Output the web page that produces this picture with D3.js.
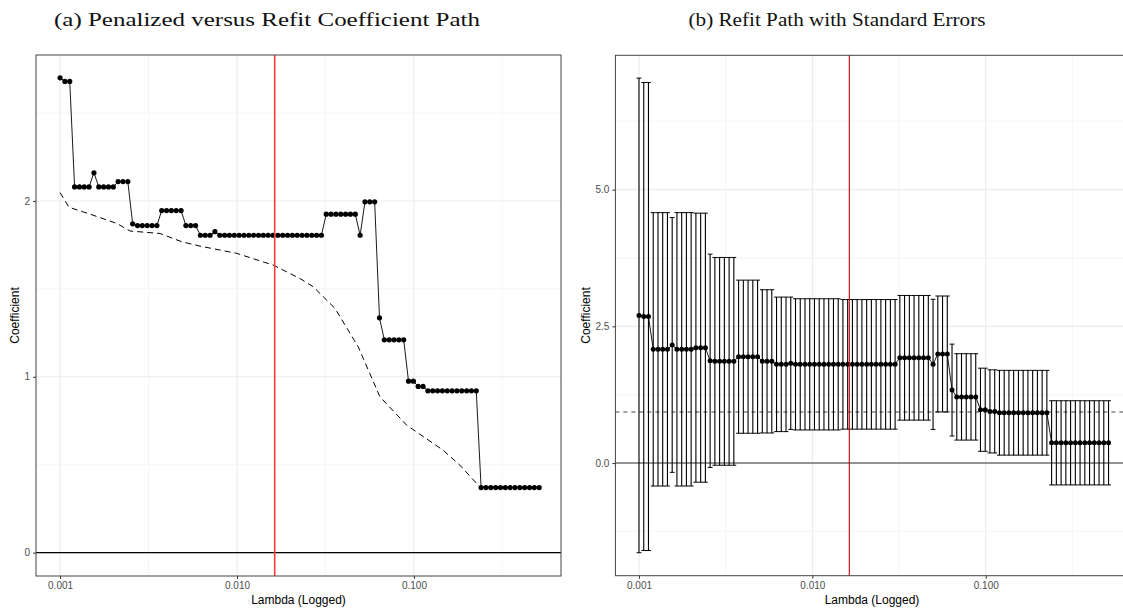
<!DOCTYPE html>
<meta charset="utf-8">
<style>
body { margin: 0; background: #fff; }
text { font-family: "Liberation Sans", Arial, sans-serif; }
.title { font-family: "Liberation Serif", "Times New Roman", serif; fill: #111; }
.tick text { fill: #4d4d4d; font-size: 10px; }
.tick line { stroke: #333; }
</style>
<body>
<script src="https://d3js.org/d3.v7.min.js"></script>
<script>

var lambdas = [0.001000, 0.001065, 0.001134, 0.001208, 0.001287, 0.001370, 0.001459, 0.001554, 0.001655, 0.001763,
  0.001877, 0.001999, 0.002129, 0.002268, 0.002415, 0.002572, 0.002739, 0.002917, 0.003107, 0.003309,
  0.003524, 0.003753, 0.003997, 0.004257, 0.004534, 0.004829, 0.005143, 0.005477, 0.005833, 0.006212,
  0.006616, 0.007046, 0.007504, 0.007992, 0.008512, 0.009065, 0.009654, 0.01028, 0.01095, 0.01166,
  0.01242, 0.01323, 0.01409, 0.01500, 0.01598, 0.01702, 0.01812, 0.01930, 0.02056, 0.02189,
  0.02332, 0.02483, 0.02645, 0.02817, 0.03000, 0.03195, 0.03402, 0.03624, 0.03859, 0.04110,
  0.04377, 0.04662, 0.04965, 0.05288, 0.05632, 0.05998, 0.06388, 0.06803, 0.07245, 0.07716,
  0.08218, 0.08752, 0.09321, 0.09927, 0.1057, 0.1126, 0.1199, 0.1277, 0.1360, 0.1448,
  0.1543, 0.1643, 0.1750, 0.1864, 0.1985, 0.2114, 0.2251, 0.2397, 0.2553, 0.2719,
  0.2896, 0.3084, 0.3285, 0.3498, 0.3726, 0.3968, 0.4226, 0.4501, 0.4793, 0.5105];

// refit coefficient at each lambda
var refit = [2.70, 2.68, 2.68, 2.08, 2.08, 2.08, 2.08, 2.16, 2.08, 2.08,
  2.08, 2.08, 2.11, 2.11, 2.11, 1.87, 1.86, 1.86, 1.86, 1.86,
  1.86, 1.945, 1.945, 1.945, 1.945, 1.945, 1.86, 1.86, 1.86, 1.805,
  1.805, 1.805, 1.825, 1.805, 1.805, 1.805, 1.805, 1.805, 1.805, 1.805,
  1.805, 1.805, 1.805, 1.805, 1.805, 1.805, 1.805, 1.805, 1.805, 1.805,
  1.805, 1.805, 1.805, 1.805, 1.805, 1.925, 1.925, 1.925, 1.925, 1.925,
  1.925, 1.925, 1.805, 1.995, 1.995, 1.995, 1.335, 1.21, 1.21, 1.21,
  1.21, 1.21, 0.975, 0.975, 0.945, 0.945, 0.92, 0.92, 0.92, 0.92,
  0.92, 0.92, 0.92, 0.92, 0.92, 0.92, 0.92, 0.37, 0.37, 0.37,
  0.37, 0.37, 0.37, 0.37, 0.37, 0.37, 0.37, 0.37, 0.37, 0.37];

// standard error of the refit coefficient
var stdErr = [4.34, 4.28, 4.28, 2.50, 2.50, 2.50, 2.50, 2.33, 2.50, 2.50,
  2.50, 2.50, 2.46, 2.46, 2.46, 1.95, 1.90, 1.90, 1.90, 1.90,
  1.90, 1.40, 1.40, 1.40, 1.40, 1.40, 1.31, 1.31, 1.31, 1.23,
  1.23, 1.23, 1.21, 1.20, 1.20, 1.20, 1.20, 1.20, 1.20, 1.20,
  1.20, 1.20, 1.20, 1.185, 1.185, 1.185, 1.185, 1.185, 1.185, 1.185,
  1.185, 1.185, 1.185, 1.185, 1.185, 1.14, 1.14, 1.14, 1.14, 1.14,
  1.14, 1.14, 1.19, 1.06, 1.06, 1.06, 0.84, 0.79, 0.79, 0.79,
  0.79, 0.79, 0.76, 0.76, 0.76, 0.76, 0.775, 0.775, 0.775, 0.775,
  0.775, 0.775, 0.775, 0.775, 0.775, 0.775, 0.775, 0.77, 0.77, 0.77,
  0.77, 0.77, 0.77, 0.77, 0.77, 0.77, 0.77, 0.77, 0.77, 0.77];

// penalized path (dashed), read at its bends
var penLambda = [0.001, 0.001124, 0.001477, 0.002091, 0.002486, 0.003673, 0.004871, 0.006180, 0.009962, 0.01603,
  0.02270, 0.02698, 0.03579, 0.04844, 0.06425, 0.09096, 0.1464, 0.1819, 0.2360, 0.5105];
var penCoef = [2.047, 1.964, 1.925, 1.872, 1.829, 1.815, 1.768, 1.743, 1.702, 1.635,
  1.559, 1.512, 1.389, 1.170, 0.886, 0.725, 0.582, 0.497, 0.373, 0.368];

var chosenLambda = 0.01633;
var refLine = 0.933;

var xTicks = [0.001, 0.01, 0.1];
var xMinor = [0.000316, 0.00316, 0.0316, 0.316];
var yTicksA = [0, 1, 2];
var yMinorA = [0.5, 1.5, 2.5];
var yTicksB = [0, 2.5, 5];
var yMinorB = [-1.25, 1.25, 3.75, 6.25];

var titles = ["(a) Penalized versus Refit Coefficient Path", "(b) Refit Path with Standard Errors"];

var width = 1123, height = 610;

var svg = d3.select("body").append("svg")
    .attr("width", width)
    .attr("height", height);

svg.append("rect").attr("width", width).attr("height", height).attr("fill", "#fff");

var xDomain = [0.000731, 0.678];

var xA = d3.scaleLog().domain(xDomain).range([36, 561]);
var yA = d3.scaleLinear().domain([-0.133, 2.83]).range([576, 55]);

var xB = d3.scaleLog().domain(xDomain).range([615.4, 1129.9]);
var yB = d3.scaleLinear().domain([-2.06, 7.457]).range([575.7, 55.3]);

var pts = lambdas.map((l, i) => ({lambda: l, coef: refit[i], se: stdErr[i]}));
var pen = penLambda.map((l, i) => ({lambda: l, coef: penCoef[i]}));

function frame(x, y, yMajor, yMinor, yFmt, xLabelX, yLabelX) {
  var r = x.range(), d = y.range();
  var g = svg.append("g");

  g.selectAll(".gminx").data(xMinor.filter(v => x(v) > r[0] && x(v) < r[1]))
    .enter().append("line")
      .attr("x1", d => x(d)).attr("x2", d => x(d))
      .attr("y1", d[1]).attr("y2", d[0])
      .attr("stroke", "#f2f2f2").attr("stroke-width", 0.8);
  g.selectAll(".gminy").data(yMinor)
    .enter().append("line")
      .attr("x1", r[0]).attr("x2", r[1])
      .attr("y1", d => y(d)).attr("y2", d => y(d))
      .attr("stroke", "#f2f2f2").attr("stroke-width", 0.8);
  g.selectAll(".gmajx").data(xTicks)
    .enter().append("line")
      .attr("x1", d => x(d)).attr("x2", d => x(d))
      .attr("y1", d[1]).attr("y2", d[0])
      .attr("stroke", "#ebebeb").attr("stroke-width", 1.1);
  g.selectAll(".gmajy").data(yMajor)
    .enter().append("line")
      .attr("x1", r[0]).attr("x2", r[1])
      .attr("y1", d => y(d)).attr("y2", d => y(d))
      .attr("stroke", "#ebebeb").attr("stroke-width", 1.1);

  var ax = svg.append("g")
      .attr("transform", `translate(0, ${d[0]})`)
      .call(d3.axisBottom(x).tickValues(xTicks).tickFormat(d3.format(".3f")).tickSize(3).tickPadding(3));
  ax.select(".domain").remove();

  var ay = svg.append("g")
      .attr("transform", `translate(${r[0]}, 0)`)
      .call(d3.axisLeft(y).tickValues(yMajor).tickFormat(yFmt).tickSize(3).tickPadding(3));
  ay.select(".domain").remove();

  svg.append("text")
      .attr("x", xLabelX).attr("y", 604)
      .attr("text-anchor", "middle")
      .attr("font-size", 12).attr("fill", "#000")
      .text("Lambda (Logged)");

  svg.append("text")
      .attr("transform", `translate(${yLabelX}, ${(d[0] + d[1]) / 2}) rotate(-90)`)
      .attr("text-anchor", "middle")
      .attr("font-size", 12).attr("fill", "#000")
      .text("Coefficient");

  return g;
}

function border(x, y) {
  var r = x.range(), d = y.range();
  svg.append("rect")
      .attr("x", r[0]).attr("y", d[1])
      .attr("width", r[1] - r[0]).attr("height", d[0] - d[1])
      .attr("fill", "none").attr("stroke", "#444").attr("stroke-width", 1);
}

// ---- panel (a)
frame(xA, yA, yTicksA, yMinorA, d3.format("d"), 298.5, 19);

svg.append("line")
    .attr("x1", xA.range()[0]).attr("x2", xA.range()[1])
    .attr("y1", yA(0)).attr("y2", yA(0))
    .attr("stroke", "#000").attr("stroke-width", 1.1);

svg.append("path")
    .datum(pen)
    .attr("fill", "none").attr("stroke", "#000").attr("stroke-width", 1)
    .attr("stroke-dasharray", "6,4")
    .attr("d", d3.line().x(d => xA(d.lambda)).y(d => yA(d.coef)));

svg.append("path")
    .datum(pts)
    .attr("fill", "none").attr("stroke", "#000").attr("stroke-width", 0.9)
    .attr("d", d3.line().x(d => xA(d.lambda)).y(d => yA(d.coef)));

svg.append("g").selectAll("circle").data(pts)
  .enter().append("circle")
    .attr("cx", d => xA(d.lambda)).attr("cy", d => yA(d.coef))
    .attr("r", 2.6).attr("fill", "#000");

svg.append("line")
    .attr("x1", xA(chosenLambda)).attr("x2", xA(chosenLambda))
    .attr("y1", yA.range()[1]).attr("y2", yA.range()[0])
    .attr("stroke", "#ff3b3b").attr("stroke-width", 1.6);

border(xA, yA);

// ---- panel (b)
frame(xB, yB, yTicksB, yMinorB, d3.format(".1f"), 872, 590);

svg.append("line")
    .attr("x1", xB.range()[0]).attr("x2", xB.range()[1])
    .attr("y1", yB(0)).attr("y2", yB(0))
    .attr("stroke", "#333").attr("stroke-width", 1.1);

svg.append("line")
    .attr("x1", xB.range()[0]).attr("x2", xB.range()[1])
    .attr("y1", yB(refLine)).attr("y2", yB(refLine))
    .attr("stroke", "#444").attr("stroke-width", 1.1)
    .attr("stroke-dasharray", "4,4");

var bars = svg.append("g").selectAll("g").data(pts).enter().append("g");
bars.append("line")
    .attr("x1", d => xB(d.lambda)).attr("x2", d => xB(d.lambda))
    .attr("y1", d => yB(d.coef - d.se)).attr("y2", d => yB(d.coef + d.se))
    .attr("stroke", "#000").attr("stroke-width", 1.1);
bars.append("line")
    .attr("x1", d => xB(d.lambda) - 2.4).attr("x2", d => xB(d.lambda) + 2.4)
    .attr("y1", d => yB(d.coef + d.se)).attr("y2", d => yB(d.coef + d.se))
    .attr("stroke", "#000").attr("stroke-width", 1);
bars.append("line")
    .attr("x1", d => xB(d.lambda) - 2.4).attr("x2", d => xB(d.lambda) + 2.4)
    .attr("y1", d => yB(d.coef - d.se)).attr("y2", d => yB(d.coef - d.se))
    .attr("stroke", "#000").attr("stroke-width", 1);

svg.append("path")
    .datum(pts)
    .attr("fill", "none").attr("stroke", "#000").attr("stroke-width", 0.9)
    .attr("d", d3.line().x(d => xB(d.lambda)).y(d => yB(d.coef)));

svg.append("g").selectAll("circle").data(pts)
  .enter().append("circle")
    .attr("cx", d => xB(d.lambda)).attr("cy", d => yB(d.coef))
    .attr("r", 2.5).attr("fill", "#000");

svg.append("line")
    .attr("x1", xB(chosenLambda)).attr("x2", xB(chosenLambda))
    .attr("y1", yB.range()[1]).attr("y2", yB.range()[0])
    .attr("stroke", "#c40000").attr("stroke-width", 1.1);

border(xB, yB);

// ---- titles, each stretched to the width it takes in the picture
var titleX = [267, 837];
var titleW = [426, 297];

svg.selectAll(".title").data(titles)
  .enter().append("text")
    .attr("class", "title")
    .attr("x", (d, i) => titleX[i])
    .attr("y", 26)
    .attr("text-anchor", "middle")
    .attr("font-size", 19)
    .attr("textLength", (d, i) => titleW[i])
    .attr("lengthAdjust", "spacingAndGlyphs")
    .text(d => d);

</script>
</body>
